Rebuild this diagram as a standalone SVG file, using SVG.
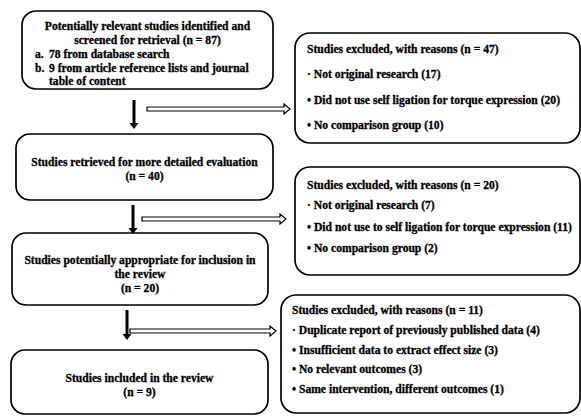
<svg xmlns="http://www.w3.org/2000/svg" width="581" height="416" viewBox="0 0 581 416">
<defs>
<style>
.box{fill:#fff;stroke:#000;stroke-width:1.7}
text{font-family:"Liberation Serif","Times New Roman",serif;font-weight:bold;font-size:11.6px;fill:#000;stroke:#000;stroke-width:0.3}
.c{text-anchor:middle}
.v{stroke:#000;stroke-width:3;fill:none}
.h{fill:#fff;stroke:#000;stroke-width:1.2;stroke-linejoin:miter}
.hd{fill:#000}
</style>
</defs>
<rect width="581" height="416" fill="#fff"/>
<g id="n1">
<rect class="box" x="22" y="11" width="251" height="78" rx="14"/>
<text class="c" x="147.5" y="30">Potentially relevant studies identified and</text>
<text class="c" x="147.5" y="44">screened for retrieval (n = 87)</text>
<text x="35" y="58">a.</text><text x="49" y="58">78 from database search</text>
<text x="35" y="71.5">b.</text><text x="49" y="71.5">9 from article reference lists and  journal</text>
<text x="49" y="85">table of content</text>
</g>
<g id="n2">
<rect class="box" x="16" y="134" width="257" height="66" rx="14"/>
<text class="c" x="144.5" y="166">Studies retrieved for more detailed evaluation</text>
<text class="c" x="144.5" y="180">(n = 40)</text>
</g>
<g id="n3">
<rect class="box" x="12" y="233" width="256" height="72" rx="14"/>
<text class="c" x="140" y="264">Studies potentially appropriate  for inclusion in</text>
<text class="c" x="140" y="278">the review</text>
<text class="c" x="140" y="292">(n = 20)</text>
</g>
<g id="n4">
<rect class="box" x="11" y="350" width="257" height="64" rx="14"/>
<text class="c" x="139.5" y="382">Studies included in the review</text>
<text class="c" x="139.5" y="396">(n = 9)</text>
</g>
<g id="e1">
<rect class="box" x="295" y="33" width="285" height="110" rx="15"/>
<text x="307" y="53">Studies excluded, with reasons (n = 47)</text>
<text x="307" y="78">· Not original research (17)</text>
<text x="307" y="104">• Did not use self ligation for torque expression (20)</text>
<text x="307" y="129">• No comparison group (10)</text>
</g>
<g id="e2">
<rect class="box" x="295" y="167" width="285" height="108" rx="15"/>
<text x="307" y="189">Studies excluded, with reasons (n = 20)</text>
<text x="307" y="209">· Not original research (7)</text>
<text x="307" y="231">• Did not use to self ligation for torque expression (11)</text>
<text x="307" y="252">• No comparison group (2)</text>
</g>
<g id="e3">
<rect class="box" x="281" y="295" width="299" height="118" rx="15"/>
<text x="292" y="314">Studies excluded, with reasons (n = 11)</text>
<text x="292" y="334">· Duplicate report of previously published data (4)</text>
<text x="292" y="354">• Insufficient data to extract effect size (3)</text>
<text x="292" y="373">• No relevant outcomes (3)</text>
<text x="292" y="393">• Same intervention, different outcomes (1)</text>
</g>
<g id="connectors">
<line class="v" x1="134" y1="100" x2="134" y2="124"/>
<path class="hd" d="M129.5,123 L138.5,123 L134,129 Z"/>
<path class="h" d="M147,107 H284 V104 L290,109 L284,114 V111 H147 Z"/>
<line class="v" x1="133" y1="205" x2="133" y2="229"/>
<path class="hd" d="M128.5,228 L137.5,228 L133,234 Z"/>
<path class="h" d="M142,217 H280 V214 L286,219 L280,224 V221 H142 Z"/>
<line class="v" x1="127" y1="310" x2="127" y2="335"/>
<path class="hd" d="M122.5,334 L131.5,334 L127,340 Z"/>
<path class="h" d="M130,329 H270 V326 L276,331 L270,336 V333 H130 Z"/>
</g>
</svg>
